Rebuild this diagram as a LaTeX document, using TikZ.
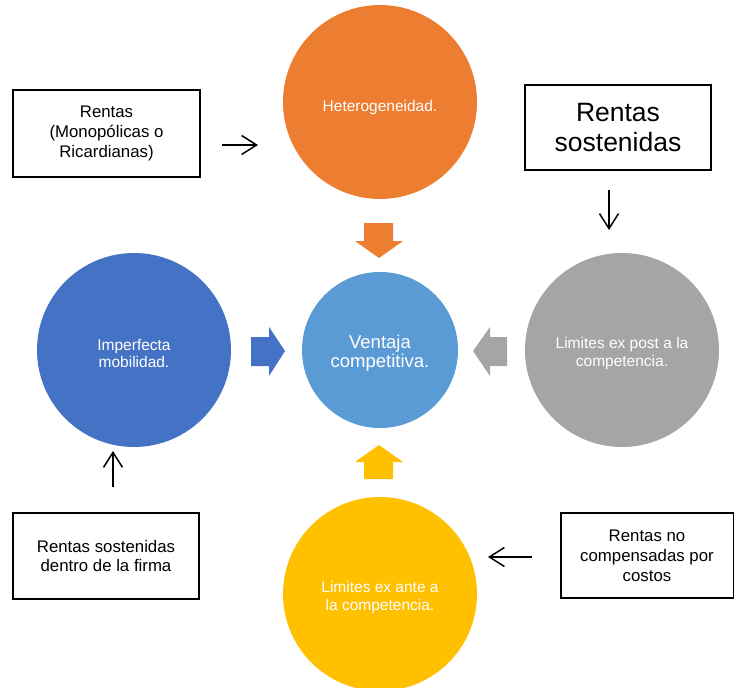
\documentclass[tikz,border=0pt]{standalone}
\usepackage{fontspec}
\setmainfont{Liberation Sans}
\usetikzlibrary{arrows.meta}
\definecolor{corange}{HTML}{ED7D31}
\definecolor{cblue}{HTML}{4472C4}
\definecolor{clight}{HTML}{5B9BD5}
\definecolor{cgray}{HTML}{A5A5A5}
\definecolor{cyellow}{HTML}{FFC000}
\begin{document}
\begin{tikzpicture}[x=1pt,y=-1pt,
  circ/.style={circle, draw=none, minimum size=194pt, inner sep=0pt},
  ctext/.style={text=white, align=center, inner sep=0pt, font=\fontsize{15.5}{17.5}\selectfont},
  boxnode/.style={draw=black, line width=2pt, fill=white, align=center, inner sep=0pt,
    font=\fontsize{16.8}{19.8}\selectfont},
  thin/.style={line width=1.5pt, -{Straight Barb[length=15pt,width=19pt,line width=1.5pt]}}
]
\useasboundingbox (0,0) rectangle (734,688);

% circles
\node[circ, fill=corange] (het) at (380,102) {};
\node[circ, fill=cblue] (imp) at (134,350) {};
\node[circ, fill=cgray] (post) at (622,350) {};
\node[circ, fill=cyellow] (ante) at (380,594) {};
\node[circ, fill=clight, minimum size=156pt] (vc) at (380,350) {};
\node[ctext] (hett) at ([yshift=-5pt]het.center) {Heterogeneidad.};
\node[ctext] (impt) at ([yshift=-3.5pt]imp.center) {Imperfecta\\mobilidad.};
\node[ctext] (postt) at ([yshift=-3.5pt]post.center) {Limites ex post a la\\competencia.};
\node[ctext] (antet) at ([yshift=-3.5pt]ante.center) {Limites ex ante a\\la competencia.};
\node[ctext, font=\fontsize{18.5}{19.5}\selectfont] (vct) at ([yshift=-3pt]vc.center) {Ventaja\\competitiva.};

% block arrows
\fill[corange] (364,223) -- (393,223) -- (393,241) -- (403,241) -- (379,258) -- (355,241) -- (364,241) -- cycle;
\fill[cblue] (251,337) -- (269,337) -- (269,327) -- (285,351) -- (269,376) -- (269,366) -- (251,366) -- cycle;
\fill[cgray] (507,337) -- (490,337) -- (490,327) -- (473,351) -- (490,376) -- (490,366) -- (507,366) -- cycle;
\fill[cyellow] (364,479) -- (364,462) -- (355,462) -- (379,445) -- (403,462) -- (393,462) -- (393,479) -- cycle;

% boxes
\node[boxnode, minimum width=187pt, minimum height=87pt] (b1) at (106.5,133.5) {Rentas\\(Monopólicas o\\Ricardianas)};
\node[boxnode, minimum width=186pt, minimum height=85pt, font=\fontsize{26.5}{30}\selectfont] (b2) at (618,127.5) {Rentas\\sostenidas};
\node[boxnode, minimum width=186pt, minimum height=86pt] (b3) at (106,556) {Rentas sostenidas\\dentro de la firma};
\node[boxnode, minimum width=173pt, minimum height=85pt] (b4) at (647,555.5) {Rentas no\\compensadas por\\costos};

% thin arrows
\coordinate (a1s) at (222,145); \coordinate (a1e) at (258,145);
\coordinate (a2s) at (609,190); \coordinate (a2e) at (609,230);
\coordinate (a3s) at (113,487); \coordinate (a3e) at (113,451);
\coordinate (a4s) at (532,557); \coordinate (a4e) at (488,557);
\draw[thin] (a1s) -- (a1e);
\draw[thin] (a2s) -- (a2e);
\draw[thin] (a3s) -- (a3e);
\draw[thin] (a4s) -- (a4e);
\end{tikzpicture}
\end{document}
